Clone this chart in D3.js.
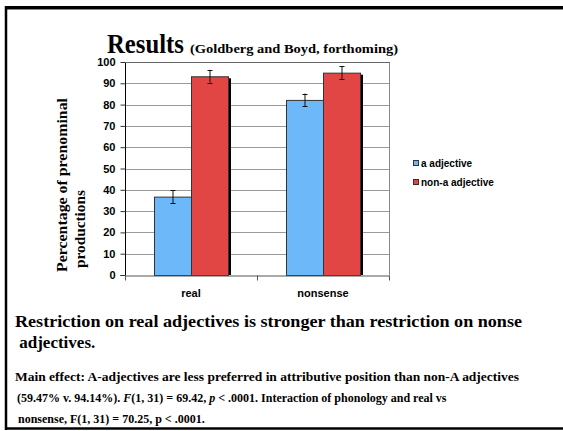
<!DOCTYPE html>
<html>
<head>
<meta charset="utf-8">
<script src="https://cdn.jsdelivr.net/npm/d3@7"></script>
<style>
  html, body { margin: 0; padding: 0; background: #fff; }
  svg { display: block; }
</style>
</head>
<body>
<svg id="chart" width="563" height="431"></svg>
<script>
// Prenominal production rates by adjective type
const categories = ["real", "nonsense"];
const seriesNames = ["a adjective", "non-a adjective"];
const aAdjective = [36.8, 82.2];
const nonAAdjective = [93.3, 95.0];
const errorMargins = [[3, 3], [3, 3]];
const yTicks = [0, 10, 20, 30, 40, 50, 60, 70, 80, 90, 100];
const seriesColors = ["#6db8f8", "#e24644"];

const svg = d3.select("#chart");
const W = 563, H = 431;

// slide frame
svg.append("rect").attr("x", 0).attr("y", 0).attr("width", W).attr("height", H).attr("fill", "#fff");
svg.append("line").attr("x1", 5).attr("x2", W).attr("y1", 9.5).attr("y2", 9.5).attr("stroke", "#888").attr("stroke-width", 1);
svg.append("line").attr("x1", 5).attr("x2", W).attr("y1", 7.5).attr("y2", 7.5).attr("stroke", "#000").attr("stroke-width", 3);
svg.append("line").attr("x1", 6).attr("x2", 6).attr("y1", 6).attr("y2", 430).attr("stroke", "#000").attr("stroke-width", 2.5);
svg.append("line").attr("x1", 5).attr("x2", W).attr("y1", 428.5).attr("y2", 428.5).attr("stroke", "#000").attr("stroke-width", 2.5);

// plot area
const plot = { left: 125, right: 389, top: 62, bottom: 275 };
const x = d3.scaleBand().domain(categories).range([plot.left, plot.right]).paddingInner(0).paddingOuter(0);
const barW = 37;
const x1 = d3.scaleBand().domain(seriesNames).range([0, barW * 2]);
const y = d3.scaleLinear().domain([0, 100]).range([plot.bottom, plot.top]);

const g = svg.append("g");

// gridlines
g.selectAll("line.grid").data(yTicks.filter(d => d > 0)).join("line")
  .attr("class", "grid")
  .attr("x1", plot.left).attr("x2", plot.right)
  .attr("y1", d => Math.round(y(d)) + 0.5).attr("y2", d => Math.round(y(d)) + 0.5)
  .attr("stroke", "#9a9a9a").attr("stroke-width", 1);

// right border of plot area
g.append("line").attr("x1", plot.right + 0.5).attr("x2", plot.right + 0.5)
  .attr("y1", plot.top).attr("y2", plot.bottom).attr("stroke", "#888");

// bars
const data = categories.map((c, i) => ({
  cat: c,
  vals: [
    { s: seriesNames[0], v: aAdjective[i], e: errorMargins[i][0], color: seriesColors[0] },
    { s: seriesNames[1], v: nonAAdjective[i], e: errorMargins[i][1], color: seriesColors[1] }
  ]
}));

const groups = g.selectAll("g.cat").data(data).join("g")
  .attr("class", "cat")
  .attr("transform", d => `translate(${x(d.cat) + x.bandwidth() / 2 - barW},0)`);

// drop shadow on the right-hand bars
groups.selectAll("rect.shadow").data(d => d.vals.filter(v => v.s === seriesNames[1])).join("rect")
  .attr("class", "shadow")
  .attr("x", d => x1(d.s) + barW)
  .attr("y", d => y(d.v) + 2)
  .attr("width", 3)
  .attr("height", d => plot.bottom - y(d.v) - 2)
  .attr("fill", "#000");

groups.selectAll("rect.bar").data(d => d.vals).join("rect")
  .attr("class", "bar")
  .attr("x", d => x1(d.s) + 0.5)
  .attr("y", d => y(d.v) + 0.5)
  .attr("width", barW)
  .attr("height", d => plot.bottom - y(d.v))
  .attr("fill", d => d.color)
  .attr("stroke", "#333")
  .attr("stroke-width", 1);

// error bars
const eb = groups.selectAll("g.err").data(d => d.vals).join("g").attr("class", "err");
eb.append("line")
  .attr("x1", d => x1(d.s) + barW / 2 + 0.5).attr("x2", d => x1(d.s) + barW / 2 + 0.5)
  .attr("y1", d => y(d.v + d.e)).attr("y2", d => y(d.v - d.e))
  .attr("stroke", "#111").attr("stroke-width", 1);
[1, -1].forEach(sign => {
  eb.append("line")
    .attr("x1", d => x1(d.s) + barW / 2 - 2).attr("x2", d => x1(d.s) + barW / 2 + 3)
    .attr("y1", d => Math.round(y(d.v + sign * d.e)) + 0.5).attr("y2", d => Math.round(y(d.v + sign * d.e)) + 0.5)
    .attr("stroke", "#111").attr("stroke-width", 1);
});

// y axis
const yAxis = d3.axisLeft(y).tickValues(yTicks).tickSize(5).tickPadding(5).tickFormat(d3.format("d"));
const ya = svg.append("g").attr("transform", `translate(${plot.left + 0.5},0)`).call(yAxis);
ya.select(".domain").attr("stroke", "#000").attr("d", `M-5,${plot.bottom + 0.5}H0V${plot.top}`);
ya.selectAll(".tick line").attr("stroke", "#333");
ya.selectAll(".tick text")
  .attr("font-family", "Arial, 'Liberation Sans', sans-serif")
  .attr("font-weight", "bold").attr("font-size", 11).attr("fill", "#000");

// top border of plot area
svg.append("line").attr("x1", plot.left).attr("x2", plot.right + 1)
  .attr("y1", plot.top + 0.5).attr("y2", plot.top + 0.5).attr("stroke", "#666");

// x axis
const xAxis = d3.axisBottom(x).tickSize(0).tickPadding(14);
const xa = svg.append("g").attr("transform", `translate(0,${plot.bottom + 0.5})`).call(xAxis);
xa.select(".domain").attr("stroke", "#555");
xa.selectAll(".tick text")
  .attr("font-family", "Arial, 'Liberation Sans', sans-serif")
  .attr("font-weight", "bold").attr("font-size", 11).attr("fill", "#000");
// category boundary ticks
const boundaries = [plot.left, x(categories[1]), plot.right];
xa.selectAll("line.bound").data(boundaries).join("line")
  .attr("class", "bound")
  .attr("x1", d => d + 0.5).attr("x2", d => d + 0.5)
  .attr("y1", 0).attr("y2", 5).attr("stroke", "#555");

// y axis title
const serif = "'Liberation Serif', 'Times New Roman', serif";
svg.append("text")
  .attr("transform", "translate(67,185) rotate(-90)")
  .attr("text-anchor", "middle")
  .attr("font-family", serif).attr("font-weight", "bold").attr("font-size", 15)
  .attr("textLength", 174).attr("lengthAdjust", "spacingAndGlyphs")
  .text("Percentage of prenominal");
svg.append("text")
  .attr("transform", "translate(85,229) rotate(-90)")
  .attr("text-anchor", "middle")
  .attr("font-family", serif).attr("font-weight", "bold").attr("font-size", 15)
  .attr("textLength", 78).attr("lengthAdjust", "spacingAndGlyphs")
  .text("productions");

// title
svg.append("text").attr("x", 107).attr("y", 53)
  .attr("font-family", serif).attr("font-weight", "bold").attr("font-size", 27)
  .attr("textLength", 77).attr("lengthAdjust", "spacingAndGlyphs")
  .text("Results");
svg.append("text").attr("x", 190).attr("y", 53)
  .attr("font-family", serif).attr("font-weight", "bold").attr("font-size", 13)
  .attr("textLength", 208).attr("lengthAdjust", "spacingAndGlyphs")
  .text("(Goldberg and Boyd, forthoming)");

// legend
const legend = svg.append("g").selectAll("g").data(seriesNames).join("g")
  .attr("transform", (d, i) => `translate(413,${160 + i * 19})`);
legend.append("rect").attr("x", 0.5).attr("y", 0.5).attr("width", 5).attr("height", 5)
  .attr("fill", (d, i) => seriesColors[i]).attr("stroke", "#333").attr("stroke-width", 1);
legend.append("text").attr("x", 8).attr("y", 6.5)
  .attr("font-family", "Arial, 'Liberation Sans', sans-serif")
  .attr("font-weight", "bold").attr("font-size", 10)
  .text(d => d);

// conclusion text
svg.append("text").attr("x", 15).attr("y", 327)
  .attr("font-family", serif).attr("font-weight", "bold").attr("font-size", 17)
  .attr("textLength", 507).attr("lengthAdjust", "spacingAndGlyphs")
  .text("Restriction on real adjectives is stronger than restriction on nonse");
svg.append("text").attr("x", 15).attr("y", 348)
  .attr("font-family", serif).attr("font-weight", "bold").attr("font-size", 17)
  .text(" adjectives.").attr("xml:space", "preserve");

// statistics note
const small = { family: serif, size: 12 };
svg.append("text").attr("x", 15).attr("y", 381)
  .attr("font-family", small.family).attr("font-weight", "bold").attr("font-size", small.size)
  .attr("textLength", 504).attr("lengthAdjust", "spacingAndGlyphs")
  .text("Main effect: A-adjectives are less preferred in attributive position than non-A adjectives");
const l2 = svg.append("text").attr("x", 17).attr("y", 402)
  .attr("font-family", small.family).attr("font-weight", "bold").attr("font-size", small.size);
l2.append("tspan").text("(59.47% v. 94.14%). ");
l2.append("tspan").attr("font-style", "italic").text("F");
l2.append("tspan").text("(1, 31) = 69.42, ");
l2.append("tspan").attr("font-style", "italic").text("p");
l2.append("tspan").text(" < .0001. Interaction of phonology and real vs");
svg.append("text").attr("x", 18).attr("y", 423)
  .attr("font-family", small.family).attr("font-weight", "bold").attr("font-size", small.size)
  .text("nonsense, F(1, 31) = 70.25, p < .0001.");
</script>
</body>
</html>
